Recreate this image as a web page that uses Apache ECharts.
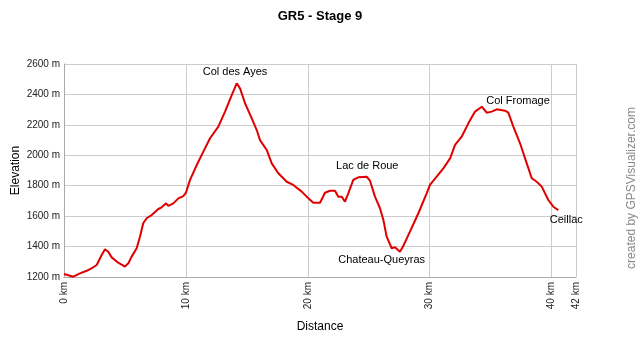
<!DOCTYPE html>
<html><head><meta charset="utf-8">
<script src="https://cdn.jsdelivr.net/npm/echarts@6/dist/echarts.min.js"></script>
<style>html,body{margin:0;padding:0;background:#fff}#c{width:640px;height:341px}</style>
</head><body><div id="c"></div>
<script>
var title = 'GR5 - Stage 9';
var distKm = [0, 0.76, 1.31, 1.86, 2.4, 2.68, 3.09, 3.36, 3.63, 3.91, 4.45, 5.0, 5.28, 5.55, 5.96, 6.23, 6.5, 6.78, 7.19, 7.74, 8.01, 8.37, 8.56, 8.97, 9.38, 9.79, 10.0, 10.34, 10.89, 11.43, 11.98, 12.66, 13.21, 13.76, 14.17, 14.44, 14.85, 15.4, 15.81, 16.08, 16.63, 17.04, 17.58, 18.27, 18.81, 19.5, 19.91, 20.45, 21.0, 21.41, 21.82, 22.23, 22.5, 22.78, 23.05, 23.32, 23.73, 24.14, 24.83, 25.1, 25.51, 25.92, 26.2, 26.47, 26.88, 27.15, 27.56, 27.83, 28.38, 29.07, 29.75, 30.02, 30.57, 31.12, 31.67, 32.08, 32.62, 33.17, 33.72, 34.27, 34.68, 35.09, 35.5, 36.18, 36.45, 36.86, 37.41, 37.96, 38.37, 38.78, 39.19, 39.73, 40.14, 40.55];
var elevM = [1220, 1202, 1224, 1241, 1264, 1279, 1345, 1382, 1366, 1329, 1294, 1268, 1290, 1334, 1389, 1465, 1553, 1586, 1607, 1647, 1658, 1684, 1667, 1684, 1717, 1732, 1754, 1838, 1936, 2024, 2112, 2188, 2287, 2396, 2473, 2440, 2342, 2243, 2166, 2100, 2035, 1947, 1882, 1826, 1805, 1761, 1728, 1688, 1688, 1754, 1767, 1767, 1728, 1728, 1695, 1750, 1838, 1855, 1859, 1833, 1728, 1652, 1575, 1465, 1389, 1395, 1366, 1404, 1498, 1619, 1750, 1805, 1859, 1914, 1980, 2068, 2122, 2210, 2287, 2319, 2280, 2287, 2302, 2293, 2280, 2188, 2079, 1947, 1849, 1826, 1794, 1706, 1662, 1640];
var placeNames = ['Col des Ayes', 'Lac de Roue', 'Chateau-Queyras', 'Col Fromage', 'Ceillac'];
var placeKm = [14.03, 24.88, 26.06, 37.24, 41.2];
var placeElev = [2547, 1931, 1311, 2357, 1577];

var chart = echarts.init(document.getElementById('c'));
var font = "'Liberation Sans', Arial, sans-serif";
chart.setOption({
  animation: false,
  backgroundColor: '#fff',
  textStyle: {fontFamily: font},
  title: {text: title, left: 'center', top: 5, textStyle: {fontSize: 13, fontWeight: 'bold', color: '#000', fontFamily: font}},
  grid: {left: 64, right: 64, top: 64, bottom: 64, containLabel: false, outerBoundsMode: 'none'},
  xAxis: {
    type: 'value', min: 0, max: 42, interval: 10,
    name: 'Distance', nameLocation: 'middle', nameGap: 44, nameMoveOverlap: false,
    nameTextStyle: {fontSize: 12, color: '#000'},
    axisLine: {show: true, lineStyle: {color: '#aaa'}},
    axisTick: {show: false},
    axisLabel: {rotate: 90, fontSize: 10, color: '#222', margin: 5, formatter: function (v) { return v + ' km'; }, showMaxLabel: true},
    splitLine: {show: true, lineStyle: {color: '#ccc'}}
  },
  yAxis: {
    type: 'value', min: 1200, max: 2600, interval: 200,
    name: 'Elevation', nameLocation: 'middle', nameGap: 42, nameMoveOverlap: false,
    nameTextStyle: {fontSize: 12, color: '#000'},
    axisLine: {show: true, lineStyle: {color: '#aaa'}},
    axisTick: {show: false},
    axisLabel: {fontSize: 10, color: '#222', margin: 4, formatter: function (v) { return v + ' m'; }},
    splitLine: {show: true, lineStyle: {color: '#ccc'}}
  },
  series: [{
    type: 'line',
    data: distKm.map(function (d, i) { return [d, elevM[i]]; }),
    showSymbol: false,
    lineStyle: {color: '#e00000', width: 2},
    itemStyle: {color: '#e00000'},
    markPoint: {
      symbol: 'circle', symbolSize: 0,
      label: {show: true, position: 'inside', color: '#000', fontSize: 11, fontFamily: font,
        formatter: function (p) { return p.name; }},
      data: placeNames.map(function (n, i) { return {name: n, coord: [placeKm[i], placeElev[i]]}; })
    }
  }],
  graphic: [{
    type: 'text', x: 632, y: 188, rotation: Math.PI / 2,
    style: {text: 'created by GPSVisualizer.com', fill: '#888', font: '12px ' + font, textAlign: 'center', textVerticalAlign: 'middle'}
  }]
});
</script></body></html>
